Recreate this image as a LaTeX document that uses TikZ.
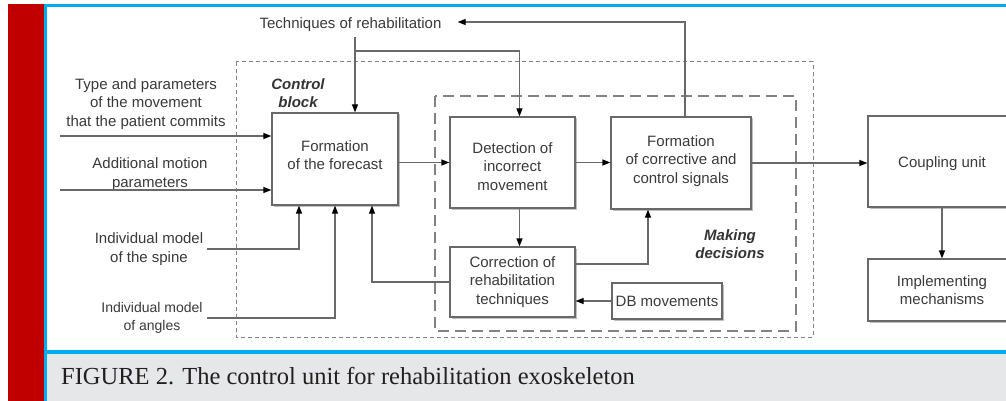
\documentclass[tikz,border=0pt]{standalone}
\usepackage{fontspec}
\setmainfont{Liberation Sans}
\newfontfamily\capfont{Liberation Serif}
\usetikzlibrary{arrows.meta,shadows}
\definecolor{redbar}{RGB}{192,0,0}
\definecolor{bluebar}{RGB}{0,174,239}
\definecolor{capgrey}{RGB}{230,231,232}
\definecolor{captxt}{RGB}{35,31,32}
\definecolor{txt}{RGB}{58,58,58}
\definecolor{ln}{RGB}{105,105,105}
\definecolor{dsh}{RGB}{130,130,130}
\begin{document}
\begin{tikzpicture}[x=1pt,y=-1pt,
  box/.style={draw=ln, line width=1.2pt, fill=white, text=txt, align=center,
    font=\fontsize{15}{18.5}\selectfont, inner sep=0pt,
    drop shadow={shadow xshift=1.5pt,shadow yshift=-1.5pt,opacity=0.25,fill=black}},
  lbl/.style={text=txt, align=center, font=\fontsize{15}{18.5}\selectfont, inner sep=0pt},
  grp/.style={text=txt!90!black, align=center, font=\fontsize{15}{18.5}\selectfont\bfseries\itshape, inner sep=0pt},
  arr/.style={draw=ln, line width=1.2pt, -{Triangle[length=8pt,width=6pt,color=black]}},
  outerdash/.style={draw=dsh, line width=1pt, dash pattern=on 4pt off 3pt},
  innerdash/.style={draw=dsh, line width=1.6pt, dash pattern=on 11pt off 6pt}
]
\useasboundingbox (0,0) rectangle (1006,401);
% frame
\fill[white] (0,0) rectangle (1006,401);
\fill[redbar] (8,4) rectangle (44,401);
\fill[bluebar] (44,4) rectangle (1006,7);
\fill[bluebar] (44,4) rectangle (47,401);
\fill[capgrey] (47,354) rectangle (1006,401);
\fill[bluebar] (44,350) rectangle (1006,354);
\node[anchor=base west, text=captxt, inner sep=0pt, font=\capfont\fontsize{24.5}{28}\selectfont] (cap) at (61,384) {FIGURE 2. The control unit for rehabilitation exoskeleton};

% group frames
\draw[outerdash] (236,62) rectangle (813,337);
\draw[innerdash] (435,96) rectangle (796,331);
\node[grp] (cb) at (298,93) {Control\\block};
\node[grp] (md) at (730,244) {Making\\decisions};

% boxes
\node[box, minimum width=126pt, minimum height=92pt, text depth=8pt] (fore) at (335,159) {Formation\\of the forecast};
\node[box, minimum width=125pt, minimum height=91pt, text height=56pt] (det) at (512.5,162.5) {Detection of\\incorrect\\movement};
\node[box, minimum width=140pt, minimum height=92pt, text depth=7.2pt] (corr) at (681,163) {Formation\\of corrective and\\control signals};
\node[box, minimum width=148pt, minimum height=91pt, text height=15pt] (coup) at (942,161.5) {Coupling unit};
\node[box, minimum width=148pt, minimum height=62pt] (impl) at (942,290) {Implementing\\mechanisms};
\node[box, minimum width=125pt, minimum height=70pt] (crr) at (512.5,282) {Correction of\\rehabilitation\\techniques};
\node[box, minimum width=110pt, minimum height=36pt] (db) at (667,301) {DB movements};

% labels
\node[lbl, inner xsep=16pt, inner ysep=5pt, text height=17pt] (tech) at (350.5,22) {Techniques of rehabilitation};
\node[lbl] (l1) at (146,104) {Type and parameters\\of the movement\\that the patient commits};
\node[lbl] (l2) at (150,174) {Additional motion\\parameters};
\node[lbl] (l3) at (149,249) {Individual model\\of the spine};
\node[lbl, font=\fontsize{14}{18}\selectfont] (l4) at (152,318) {Individual model\\of angles};

% coordinates for free ends
\coordinate (cT) at (685,22);
\coordinate (bT) at (355,51);
\coordinate (in1) at (60,136);
\coordinate (in2) at (60,190);
\coordinate (sp) at (207,249);
\coordinate (an) at (207,318);

% connectors
\draw[arr] (corr.north -| cT) |- (tech.east);
\draw[arr] (tech.south -| bT) -- (fore.north -| bT);
\draw[arr] (bT) -| ([xshift=7pt]det.north);
\draw[arr] (in1) -- (fore.west |- in1);
\draw[arr] (in2) -- (fore.west |- in2);
\draw[arr] (sp) -| ([xshift=-36pt]fore.south);
\draw[arr] (an) -| (fore.south);
\draw[arr] (crr.west) -| ([xshift=37pt]fore.south);
\draw[arr] (fore.east |- det.west) -- (det.west);
\draw[arr] (det.east) -- (corr.west |- det.east);
\draw[arr] (corr.east) -- (coup.west |- corr.east);
\draw[arr] ([xshift=7pt]det.south) -- ([xshift=7pt]det.south |- crr.north);
\draw[arr] ([yshift=18pt]crr.east) -| ([xshift=-33pt]corr.south);
\draw[arr] (db.west) -- (crr.east |- db.west);
\draw[arr] (coup.south) -- (impl.north);
\end{tikzpicture}
\end{document}
